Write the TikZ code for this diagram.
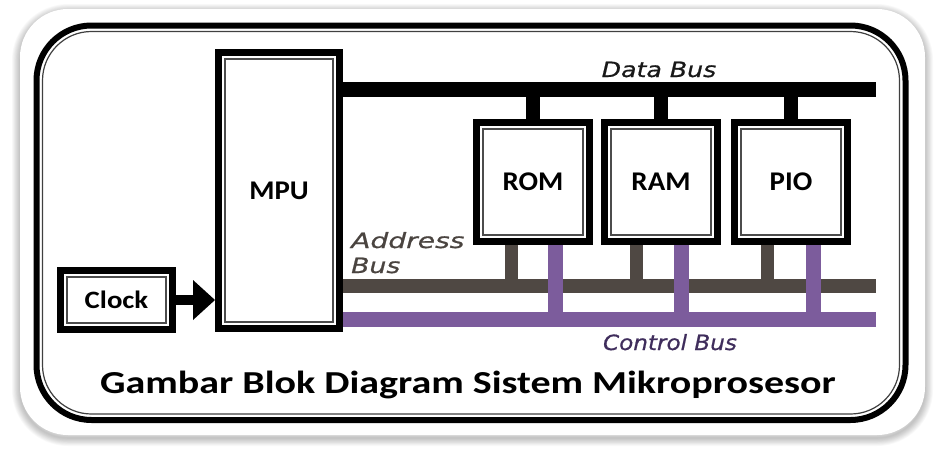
\documentclass[tikz,border=0pt]{standalone}
\usepackage{fontspec}
\usepackage{graphicx}
\setmainfont{Carlito}
\newfontfamily\labfont[ItalicFeatures={FakeBold=0.6}]{DejaVu Sans}
\usetikzlibrary{arrows.meta}
\definecolor{abus}{HTML}{4F4843}
\definecolor{cbus}{HTML}{7C5C9C}
\definecolor{cbustext}{HTML}{3F2D5C}
\definecolor{abustext}{HTML}{4A4440}
\tikzset{
  blockbox/.style={draw=black, line width=7pt, fill=white, inner sep=0pt,
    font=\bfseries\fontsize{27}{30}\selectfont,
    path picture={\draw[line width=1.3pt, black!70]
      ([shift={(6.5pt,-6.5pt)}]path picture bounding box.north west) rectangle
      ([shift={(-6.5pt,6.5pt)}]path picture bounding box.south east);}},
  databus/.style={line width=15pt, black},
  addrbus/.style={line width=14pt, abus},
  ctrlbus/.style={line width=15pt, cbus},
  buslabel/.style={font=\labfont\itshape\fontsize{21}{25}\selectfont, inner sep=0pt},
}
\begin{document}
\begin{tikzpicture}[x=1pt, y=-1pt]
\useasboundingbox (0,0) rectangle (938,453);
\fill[white] (0,0) rectangle (938,453);
% card shadow
\foreach \i in {1,...,10}{
  \draw[line width=\i*1.6pt, black, opacity=0.025, rounded corners=48pt]
    (20,12) rectangle (925,438);
}
\fill[white, rounded corners=48pt] (20,9) rectangle (925,435);
% frame
\draw[line width=6pt, rounded corners=55pt] (36.5,25.5) rectangle (905.5,420);
\draw[line width=1.2pt, black!75, rounded corners=49pt] (42.5,31.5) rectangle (899.5,414);

% blocks
\node[blockbox, minimum width=121pt, minimum height=276pt] (mpu) at (279,190.5) {\scalebox{1.07}[1]{MPU}};
\node[blockbox, minimum width=113pt, minimum height=119pt] (rom) at (533,182) {\raisebox{-4pt}{\scalebox{1.07}[1]{ROM}}};
\node[blockbox, minimum width=113pt, minimum height=119pt] (ram) at (661,182) {\raisebox{-4pt}{\scalebox{1.07}[1]{RAM}}};
\node[blockbox, minimum width=113pt, minimum height=119pt] (pio) at (791,182) {\raisebox{-4pt}{\scalebox{1.07}[1]{PIO}}};
\node[blockbox, minimum width=112pt, minimum height=59pt, font=\bfseries\fontsize{25}{28}\selectfont] (clock) at (116.5,300) {\scalebox{1.15}[1]{Clock}};

% clock arrow
\draw[line width=10pt, -{Triangle[length=22pt, width=40pt, line width=0pt]}] (clock.east) -- (clock.east -| mpu.west);

% data bus
\coordinate (dbend) at (876,89.5);
\draw[databus] (mpu.east |- dbend) -- (dbend);
\foreach \b in {rom,ram,pio}{
  \draw[databus, line width=14pt] (\b.north |- dbend) -- (\b.north);
}

% address and control buses
\coordinate (abend) at (876,285.5);
\coordinate (cbend) at (876,319.5);
\draw[addrbus] (mpu.east |- abend) -- (abend);
\draw[addrbus, line width=13pt] ([xshift=-22pt]rom.south) -- ([xshift=-22pt]rom.south |- abend);
\draw[addrbus, line width=13pt] ([xshift=-25pt]ram.south) -- ([xshift=-25pt]ram.south |- abend);
\draw[addrbus, line width=13pt] ([xshift=-24pt]pio.south) -- ([xshift=-24pt]pio.south |- abend);
\draw[ctrlbus] ([xshift=22pt]rom.south) -- ([xshift=22pt]rom.south |- cbend);
\draw[ctrlbus] ([xshift=20pt]ram.south) -- ([xshift=20pt]ram.south |- cbend);
\draw[ctrlbus] ([xshift=22pt]pio.south) -- ([xshift=22pt]pio.south |- cbend);
\draw[ctrlbus] (mpu.east |- cbend) -- (cbend);

% labels
\node[buslabel, anchor=base, text=black!90] (dblabel) at (659,77) {\scalebox{1.2}[1]{Data Bus}};
\node[buslabel, anchor=base west, align=left, text=abustext] (ablabel) at (351,273) {\scalebox{1.34}[1]{Address}\\\scalebox{1.27}[1]{Bus}};
\node[buslabel, anchor=base, text=cbustext] (cblabel) at (670,350) {\scalebox{1.1}[1]{Control Bus}};
\node[font=\bfseries\fontsize{32}{36}\selectfont, anchor=base, inner sep=0pt] (title) at (468,393) {\scalebox{1.25}[1]{Gambar Blok Diagram Sistem Mikroprosesor}};
\end{tikzpicture}
\end{document}
